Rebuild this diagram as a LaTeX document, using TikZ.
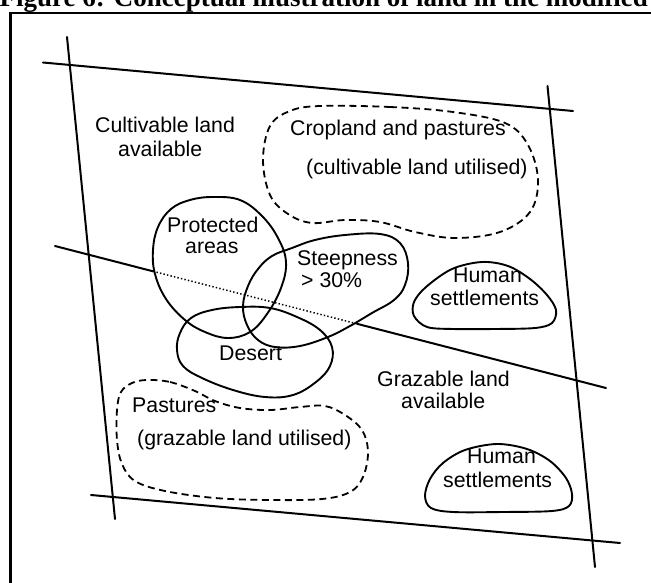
\documentclass[tikz,border=0pt]{standalone}
\usepackage{fontspec}
\setmainfont{Liberation Sans}
\newfontfamily\titlefont{Liberation Serif}
\begin{document}
\begin{tikzpicture}[x=1pt,y=-1pt,
  lbl/.style={inner sep=0pt, anchor=base west, font=\fontsize{21.3}{24}\selectfont},
  bline/.style={line width=2pt, line cap=round},
  blob/.style={line width=1.9pt, smooth cycle, tension=0.65},
  dblob/.style={line width=1.8pt, dash pattern=on 7pt off 4.5pt},
  dotline/.style={line width=1.5pt, dash pattern=on 1.4pt off 2.2pt}]
\useasboundingbox (0,0) rectangle (651,583);
\clip (0,0) rectangle (651,583);
% title
\node[inner sep=0pt, anchor=base west, font=\titlefont\bfseries\fontsize{27}{30}\selectfont] (title) at (-0.5,7) {Figure 6: Conceptual illustration of land in the modified};
% frame
\coordinate (fTL) at (10.5,13);
\coordinate (fTR) at (660,13);
\coordinate (fBL) at (10.5,595);
\draw[line width=2.4pt] (fTR) -- (fTL) -- (fBL);
% boundary lines
\coordinate (l1a) at (67,37);   \coordinate (l1b) at (115,519);
\coordinate (l2a) at (43,62.5); \coordinate (l2b) at (573,111);
\coordinate (l3a) at (547.5,86);\coordinate (l3b) at (595,567);
\coordinate (l4a) at (91,495);  \coordinate (l4b) at (620,543);
\draw[bline] (l1a) -- (l1b);
\draw[bline] (l2a) -- (l2b);
\draw[bline] (l3a) -- (l3b);
\draw[bline] (l4a) -- (l4b);
% middle line
\coordinate (m1) at (55,246);
\coordinate (m2) at (153,271.3);
\coordinate (m3) at (357,323.8);
\coordinate (m4) at (606,388);
\draw[bline] (m1) -- (m2);
\draw[dotline] (m2) -- (m3);
\draw[bline] (m3) -- (m4);
% Cropland and pastures (dashed)
\draw[dblob] plot[smooth cycle, tension=0.6] coordinates {(320,106) (390,107) (453,112) (505,123) (528,145) (538,180) (530,212) (500,232) (455,238) (415,232) (380,222) (345,220) (312,223) (288,214) (270,195) (263,160) (270,126) (290,111)};
% Pastures (dashed)
\draw[dblob] plot[smooth cycle, tension=0.6] coordinates {(147,380) (170,382) (195,391) (215,401) (240,408) (270,410) (300,407) (325,406) (345,415) (362,430) (368,452) (363,477) (350,492) (322,499) (270,500) (215,498) (165,491) (135,481) (122,464) (117,440) (117,410) (121,392) (132,383)};
% Protected areas
\draw[blob] plot coordinates {(213,197) (240,200) (262,216) (278,238) (286,262) (281,288) (267,314) (250,332) (228,338) (205,332) (185,320) (166,299) (155,274) (153,250) (158,227) (171,209) (190,200)};
% Steepness
\draw[blob] plot coordinates {(248,286) (258,269) (272,256) (292,248) (315,240) (345,235) (380,234) (400,243) (408,263) (405,285) (394,300) (372,313) (350,326) (328,337) (300,346) (275,347) (258,340) (247,325) (243,306)};
% Desert
\draw[blob] plot coordinates {(240,307) (270,308) (297,317) (320,330) (332,347) (330,366) (316,382) (293,395) (265,397) (233,390) (202,378) (183,366) (177,350) (180,333) (191,318) (212,310)};
% Human settlements upper
\draw[blob] plot[tension=0.55] coordinates {(482,262) (508,266) (530,279) (547,295) (556,310) (552,323) (535,328) (495,329) (453,329) (427,327) (414,316) (414,302) (426,287) (452,269)};
% Human settlements lower
\draw[blob] plot[tension=0.55] coordinates {(497,444) (527,449) (550,461) (566,478) (572,494) (569,506) (552,511) (503,512) (453,512) (431,508) (425,496) (430,479) (443,463) (465,450)};
% labels
\node[lbl] (t1) at (95,133) {Cultivable land};
\node[lbl] (t2) at (118,157) {available};
\node[lbl] (t3) at (290,136) {Cropland and pastures};
\node[lbl] (t4) at (306,175) {(cultivable land utilised)};
\node[lbl] (t5) at (167,233) {Protected};
\node[lbl] (t6) at (185,253) {areas};
\node[lbl] (t7) at (297,265) {Steepness};
\node[lbl] (t8) at (301,287) {> 30\%};
\node[lbl] (t9) at (453,282) {Human};
\node[lbl] (t10) at (430,305) {settlements};
\node[lbl] (t11) at (219,360) {Desert};
\node[lbl] (t12) at (377,386) {Grazable land};
\node[lbl] (t13) at (401,408) {available};
\node[lbl] (t14) at (132,412) {Pastures};
\node[lbl] (t15) at (137,445) {(grazable land utilised)};
\node[lbl] (t16) at (467,463) {Human};
\node[lbl] (t17) at (443,487) {settlements};
\end{tikzpicture}
\end{document}
